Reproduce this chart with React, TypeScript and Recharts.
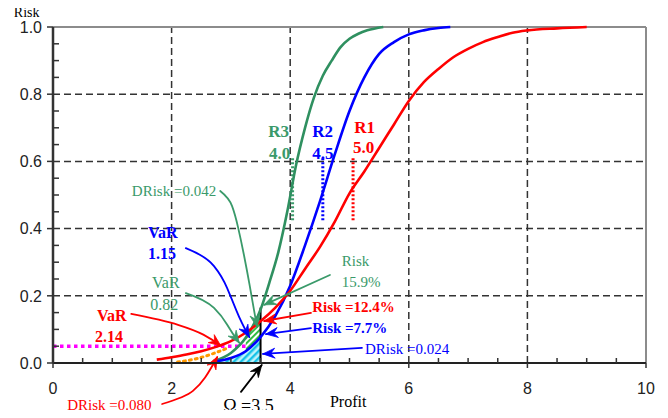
import React from "react";
import {
  ComposedChart,
  Line,
  Area,
  XAxis,
  YAxis,
  ReferenceLine,
  ReferenceDot,
} from "recharts";

// cumulative risk curves
const r1Profit = [1.75, 2.0, 2.25, 2.5, 2.75, 3.0, 3.25, 3.5, 3.75, 4.0, 4.25, 4.5, 4.75, 5.0, 5.25, 5.5, 5.75, 6.0, 6.25, 6.5, 6.75, 7.0, 7.25, 7.5, 7.75, 8.0, 8.5, 9.0];
const r1Risk = [0.01, 0.017, 0.025, 0.035, 0.048, 0.065, 0.09, 0.124, 0.165, 0.215, 0.28, 0.345, 0.42, 0.505, 0.57, 0.64, 0.71, 0.78, 0.835, 0.875, 0.91, 0.935, 0.955, 0.97, 0.983, 0.99, 0.996, 1.0];

const r2Profit = [2.75, 3.0, 3.25, 3.5, 3.75, 4.0, 4.25, 4.5, 4.75, 5.0, 5.25, 5.5, 5.75, 6.0, 6.25, 6.5, 6.7];
const r2Risk = [0.005, 0.015, 0.035, 0.077, 0.14, 0.23, 0.35, 0.48, 0.62, 0.75, 0.85, 0.92, 0.955, 0.978, 0.99, 0.997, 1.0];

const r3Profit = [2.7, 3.0, 3.25, 3.5, 3.65, 3.8, 3.95, 4.1, 4.25, 4.4, 4.55, 4.7, 4.85, 5.0, 5.15, 5.3, 5.57];
const r3Risk = [0.005, 0.03, 0.075, 0.159, 0.24, 0.33, 0.45, 0.59, 0.7, 0.79, 0.855, 0.9, 0.94, 0.965, 0.98, 0.99, 1.0];

// orange dotted hatch under the red curve
const hatchProfit = [2.1, 2.4, 2.7, 2.95];
const hatchRisk = [0.003, 0.012, 0.028, 0.045];

const xTicks = [0, 0.5, 1, 1.5, 2, 2.5, 3, 3.5, 4, 4.5, 5, 5.5, 6, 6.5, 7, 7.5, 8, 8.5, 9, 9.5, 10];
const xLabels = [0, 2, 4, 6, 8, 10];
const yTicks = [0, 0.05, 0.1, 0.15, 0.2, 0.25, 0.3, 0.35, 0.4, 0.45, 0.5, 0.55, 0.6, 0.65, 0.7, 0.75, 0.8, 0.85, 0.9, 0.95, 1.0];
const yLabels = [0, 0.2, 0.4, 0.6, 0.8, 1.0];
const gridX = [2, 4, 6, 8];
const gridY = [0.2, 0.4, 0.6, 0.8];

const omega = 3.5;
const varLevel = 0.05;
const targets = [4.04, 4.55, 5.06]; // R3, R2, R1 markers

const RED = "#ff0000";
const BLUE = "#0000ff";
const GREEN = "#2f9060";
const GREEN_TXT = "#3a9a6a";
const SERIF = "Liberation Serif, Times New Roman, serif";
const SANS = "Liberation Sans, Arial, sans-serif";

type P = { x: number; y: number };
const toPts = (xs: number[], ys: number[]): P[] => xs.map((x, i) => ({ x, y: ys[i] }));

const r1 = toPts(r1Profit, r1Risk);
const r2 = toPts(r2Profit, r2Risk);
const r3 = toPts(r3Profit, r3Risk);
const hatch = toPts(hatchProfit, hatchRisk);
const cyanArea = r2.filter((p) => p.x <= omega);
const greenBand = r3
  .filter((p) => p.x >= 3.25 && p.x <= omega)
  .map((p) => ({ x: p.x, band: [r2.find((q) => q.x === p.x)!.y, p.y] }));

const arrows: { pts: P[]; color: string }[] = [
  { color: GREEN_TXT, pts: [{ x: 2.82, y: 0.512 }, { x: 2.97, y: 0.491 }, { x: 3.07, y: 0.443 }, { x: 3.17, y: 0.366 }, { x: 3.27, y: 0.277 }, { x: 3.36, y: 0.188 }, { x: 3.44, y: 0.107 }] },
  { color: BLUE, pts: [{ x: 2.24, y: 0.342 }, { x: 2.58, y: 0.318 }, { x: 2.85, y: 0.259 }, { x: 3.02, y: 0.188 }, { x: 3.17, y: 0.122 }, { x: 3.31, y: 0.077 }] },
  { color: GREEN_TXT, pts: [{ x: 2.24, y: 0.208 }, { x: 2.58, y: 0.1875 }, { x: 2.85, y: 0.14 }, { x: 3.02, y: 0.089 }, { x: 3.14, y: 0.06 }] },
  { color: RED, pts: [{ x: 1.32, y: 0.146 }, { x: 1.85, y: 0.128 }, { x: 2.39, y: 0.098 }, { x: 2.68, y: 0.071 }, { x: 2.83, y: 0.051 }] },
  { color: RED, pts: [{ x: 1.84, y: -0.122 }, { x: 2.24, y: -0.101 }, { x: 2.48, y: -0.065 }, { x: 2.65, y: -0.021 }, { x: 2.77, y: 0.018 }] },
  { color: "#000000", pts: [{ x: 3.17, y: -0.086 }, { x: 3.52, y: -0.006 }] },
  { color: GREEN_TXT, pts: [{ x: 4.67, y: 0.262 }, { x: 3.56, y: 0.173 }] },
  { color: RED, pts: [{ x: 4.35, y: 0.149 }, { x: 3.56, y: 0.125 }] },
  { color: BLUE, pts: [{ x: 4.35, y: 0.104 }, { x: 3.59, y: 0.086 }] },
  { color: BLUE, pts: [{ x: 5.21, y: 0.045 }, { x: 3.54, y: 0.027 }] },
];

const notes = [
  { x: 3.98, y: 0.673, text: "R3", color: GREEN_TXT, bold: true, size: 17, anchor: "end" },
  { x: 4.0, y: 0.607, text: "4.0", color: GREEN_TXT, bold: true, size: 17, anchor: "end" },
  { x: 4.37, y: 0.673, text: "R2", color: BLUE, bold: true, size: 17 },
  { x: 4.37, y: 0.607, text: "4.5", color: BLUE, bold: true, size: 17 },
  { x: 5.08, y: 0.685, text: "R1", color: RED, bold: true, size: 17 },
  { x: 5.06, y: 0.625, text: "5.0", color: RED, bold: true, size: 17 },
  { x: 1.33, y: 0.497, text: "DRisk =0.042", color: GREEN_TXT, size: 15 },
  { x: 1.6, y: 0.372, text: "VaR", color: BLUE, bold: true, size: 16 },
  { x: 1.6, y: 0.31, text: "1.15", color: BLUE, bold: true, size: 16 },
  { x: 1.67, y: 0.223, text: "VaR", color: GREEN_TXT, size: 16 },
  { x: 1.64, y: 0.158, text: "0.82", color: GREEN_TXT, size: 16 },
  { x: 0.74, y: 0.125, text: "VaR", color: RED, bold: true, size: 16 },
  { x: 0.71, y: 0.0625, text: "2.14", color: RED, bold: true, size: 16 },
  { x: 4.87, y: 0.289, text: "Risk", color: GREEN_TXT, size: 15 },
  { x: 4.87, y: 0.226, text: "15.9%", color: GREEN_TXT, size: 15 },
  { x: 4.37, y: 0.152, text: "Risk =12.4%", color: RED, bold: true, size: 15 },
  { x: 4.37, y: 0.089, text: "Risk =7.7%", color: BLUE, bold: true, size: 15 },
  { x: 5.26, y: 0.027, text: "DRisk =0.024", color: BLUE, size: 15 },
  { x: 0.24, y: -0.14, text: "DRisk =0.080", color: RED, size: 15 },
  { x: 2.87, y: -0.146, text: "\u03a9 =3.5", color: "#000000", size: 18 },
  { x: 4.67, y: -0.131, text: "Profit", color: "#000000", size: 16 },
  { x: -0.66, y: 1.03, text: "Risk", color: "#000000", size: 14 },
];

// draws a (curved) arrow through data points, mapped via the segment endpoints
const arrowShape = (pts: P[], color: string) => (props: any) => {
  const { x1, y1, x2, y2 } = props;
  const a = pts[0];
  const b = pts[pts.length - 1];
  const sx = (x2 - x1) / (b.x - a.x);
  const sy = (y2 - y1) / (b.y - a.y);
  const q = pts.map((p) => [x1 + (p.x - a.x) * sx, y1 + (p.y - a.y) * sy]);
  const n = q.length;
  let d = `M${q[0][0]},${q[0][1]}`;
  if (n === 2) {
    d += ` L${q[1][0]},${q[1][1]}`;
  } else {
    for (let i = 1; i < n - 1; i++) {
      const end = i < n - 2 ? [(q[i][0] + q[i + 1][0]) / 2, (q[i][1] + q[i + 1][1]) / 2] : q[n - 1];
      d += ` Q${q[i][0]},${q[i][1]} ${end[0]},${end[1]}`;
    }
  }
  const [tx, ty] = q[n - 1];
  const [px, py] = q[n - 2];
  const len = Math.hypot(tx - px, ty - py) || 1;
  const ux = (tx - px) / len;
  const uy = (ty - py) / len;
  const L = 12;
  const W = 5;
  const head = [
    [tx, ty],
    [tx - L * ux - W * uy, ty - L * uy + W * ux],
    [tx - 0.65 * L * ux, ty - 0.65 * L * uy],
    [tx - L * ux + W * uy, ty - L * uy - W * ux],
  ]
    .map((p) => p.join(","))
    .join(" ");
  return (
    <g>
      <path d={d} fill="none" stroke={color} strokeWidth={1.8} strokeLinecap="round" />
      <polygon points={head} fill={color} stroke={color} strokeWidth={0.8} />
    </g>
  );
};

const textShape = (n: (typeof notes)[number]) => (props: any) => (
  <text
    x={props.cx}
    y={props.cy}
    fill={n.color}
    fontFamily={SERIF}
    fontSize={n.size}
    fontWeight={n.bold ? "bold" : "normal"}
    textAnchor={(n as any).anchor || "start"}
  >
    {n.text}
  </text>
);

const YTick = (props: any) => {
  const { x, y, payload } = props;
  const major = yLabels.includes(payload.value);
  return (
    <g>
      <line x1={x} x2={major ? x - 6 : x + 6} y1={y} y2={y} stroke="#333" strokeWidth={1.5} />
      {major && (
        <text x={x - 11} y={y} dy="0.36em" textAnchor="end" fontFamily={SANS} fontSize={16} fill="#222">
          {payload.value.toFixed(1)}
        </text>
      )}
    </g>
  );
};

const XTick = (props: any) => {
  const { x, y, payload } = props;
  const major = xLabels.includes(payload.value);
  return (
    <g>
      <line x1={x} x2={x} y1={y} y2={major ? y + 5 : y - 5} stroke="#333" strokeWidth={1.5} />
      {major && (
        <text x={x} y={y + 25} dy="0.36em" textAnchor="middle" fontFamily={SANS} fontSize={16} fill="#222">
          {payload.value}
        </text>
      )}
    </g>
  );
};

export default function App() {
  return (
    <div style={{ margin: -8, width: 668, height: 418 }}>
      <ComposedChart
        width={668}
        height={418}
        margin={{ top: 27, right: 22, bottom: 25, left: 8 }}
      >
        <defs>
          <pattern id="cyanHatch" width="5" height="5" patternUnits="userSpaceOnUse" patternTransform="rotate(45)">
            <rect width="5" height="5" fill="#bdf3fb" />
            <rect width="2.4" height="5" fill="#16c3e8" />
          </pattern>
          <pattern id="greenHatch" width="4" height="4" patternUnits="userSpaceOnUse" patternTransform="rotate(45)">
            <rect width="4" height="4" fill="#ffffff" />
            <rect width="2" height="4" fill="#33bb44" />
          </pattern>
        </defs>
        <XAxis
          dataKey="x"
          type="number"
          domain={[0, 10]}
          ticks={xTicks}
          interval={0}
          height={30}
          tickSize={0}
          tickMargin={0}
          tickLine={false}
          axisLine={{ stroke: "#222", strokeWidth: 2 }}
          tick={<XTick />}
        />
        <YAxis
          type="number"
          domain={[0, 1]}
          ticks={yTicks}
          interval={0}
          width={45}
          tickSize={0}
          tickMargin={0}
          tickLine={false}
          axisLine={{ stroke: "#333", strokeWidth: 2.5 }}
          tick={<YTick />}
        />
        {gridX.map((v) => (
          <ReferenceLine key={`gx${v}`} x={v} stroke="#333" strokeWidth={1.5} strokeDasharray="7 4" />
        ))}
        {gridY.map((v) => (
          <ReferenceLine key={`gy${v}`} y={v} stroke="#333" strokeWidth={1.5} strokeDasharray="7 4" />
        ))}
        <ReferenceLine y={1} stroke="#8c8c8c" strokeWidth={2} />
        <ReferenceLine x={10} stroke="#8c8c8c" strokeWidth={2} />

        <Area data={cyanArea} dataKey="y" type="monotone" stroke="none" fill="url(#cyanHatch)" fillOpacity={1} isAnimationActive={false} />
        <Area data={greenBand} dataKey="band" type="linear" stroke="none" fill="url(#greenHatch)" fillOpacity={1} isAnimationActive={false} />
        <Line data={hatch} dataKey="y" type="monotone" stroke="#ff9900" strokeWidth={3} strokeDasharray="2 4" strokeLinecap="round" dot={false} activeDot={false} isAnimationActive={false} />

        <ReferenceLine
          segment={[{ x: 0, y: varLevel }, { x: 3.25, y: varLevel }]}
          stroke="#ff00ff"
          strokeWidth={3.5}
          strokeDasharray="3.5 3.5"
          ifOverflow="visible"
        />
        <ReferenceLine segment={[{ x: omega, y: 0 }, { x: omega, y: 0.165 }]} stroke="#000" strokeWidth={2} />
        {targets.map((t, i) => (
          <ReferenceLine
            key={`t${t}`}
            segment={[{ x: t, y: 0.425 }, { x: t, y: 0.61 }]}
            stroke={[GREEN_TXT, BLUE, RED][i]}
            strokeWidth={3}
            strokeDasharray="2 2"
          />
        ))}

        <Line data={r3} dataKey="y" type="monotone" stroke={GREEN} strokeWidth={2.6} dot={false} activeDot={false} isAnimationActive={false} />
        <Line data={r2} dataKey="y" type="monotone" stroke={BLUE} strokeWidth={2.6} dot={false} activeDot={false} isAnimationActive={false} />
        <Line data={r1} dataKey="y" type="monotone" stroke={RED} strokeWidth={2.6} dot={false} activeDot={false} isAnimationActive={false} />

        {arrows.map((a, i) => (
          <ReferenceLine
            key={`a${i}`}
            segment={[a.pts[0], a.pts[a.pts.length - 1]]}
            ifOverflow="visible"
            shape={arrowShape(a.pts, a.color)}
          />
        ))}
        {notes.map((n, i) => (
          <ReferenceDot key={`n${i}`} x={n.x} y={n.y} r={1} ifOverflow="visible" shape={textShape(n)} />
        ))}
      </ComposedChart>
    </div>
  );
}
